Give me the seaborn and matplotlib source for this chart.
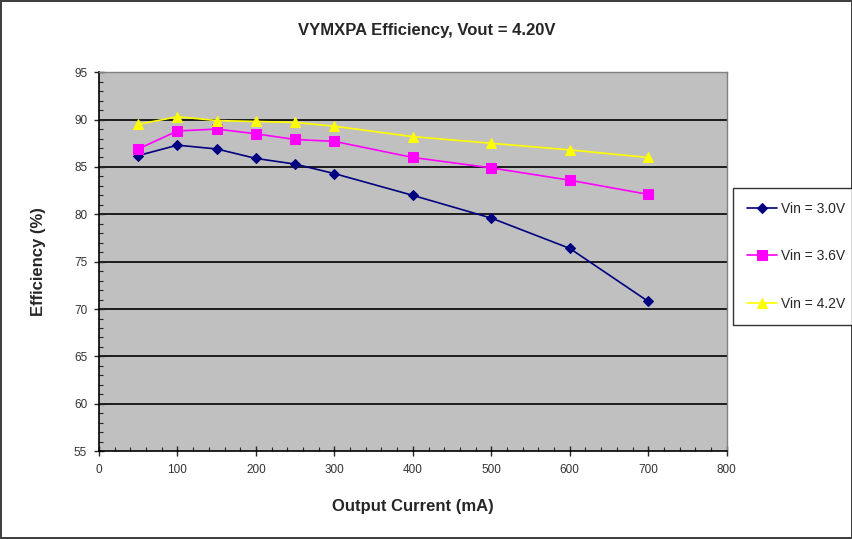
import numpy as np
import pandas as pd
import seaborn as sns
import matplotlib.pyplot as plt
from matplotlib.ticker import MultipleLocator

current = [50, 100, 150, 200, 250, 300, 400, 500, 600, 700]
vin_30 = [86.2, 87.3, 86.9, 85.9, 85.3, 84.3, 82.0, 79.6, 76.4, 70.8]
vin_36 = [86.9, 88.8, 89.0, 88.5, 87.9, 87.7, 86.0, 84.9, 83.6, 82.1]
vin_42 = [89.5, 90.3, 89.9, 89.8, 89.7, 89.3, 88.2, 87.5, 86.8, 86.0]
series = ["Vin = 3.0V", "Vin = 3.6V", "Vin = 4.2V"]

sns.set_theme(style="white")
plt.rcParams['font.family'] = ['Liberation Sans', 'DejaVu Sans']

df = pd.DataFrame({
    "current": current * 3,
    "eff": vin_30 + vin_36 + vin_42,
    "vin": [s for s in series for _ in current],
})

colors = {"Vin = 3.0V": "#000080", "Vin = 3.6V": "#FF00FF", "Vin = 4.2V": "#FFFF00"}
markers = {"Vin = 3.0V": "D", "Vin = 3.6V": "s", "Vin = 4.2V": "^"}
msize = {"Vin = 3.0V": 5.5, "Vin = 3.6V": 7, "Vin = 4.2V": 7}

fig = plt.figure(figsize=(8.53, 5.39), dpi=100)
fig.patch.set_edgecolor("#404040")
fig.patch.set_linewidth(1.5)
ax = fig.add_axes([0.116, 0.163, 0.736, 0.703])
ax.set_facecolor("#C0C0C0")

for s in series:
    sns.lineplot(data=df[df.vin == s], x="current", y="eff", ax=ax,
                 color=colors[s], marker=markers[s], markersize=msize[s],
                 markeredgecolor=colors[s], linewidth=1.2, label=s)

ax.set_xlim(0, 800)
ax.set_ylim(55, 95)
ax.xaxis.set_major_locator(MultipleLocator(100))
ax.xaxis.set_minor_locator(MultipleLocator(20))
ax.yaxis.set_major_locator(MultipleLocator(5))
ax.yaxis.set_minor_locator(MultipleLocator(1))
for y in range(60, 95, 5):
    ax.axhline(y, color="black", linewidth=1.2, zorder=0.5)
ax.tick_params(which="major", direction="inout", length=7, width=1,
               labelsize=8.5, labelcolor="#333333", bottom=True, left=True)
ax.tick_params(axis="x", which="major", pad=6)
ax.tick_params(axis="y", which="major", pad=5)
ax.tick_params(which="minor", direction="in", length=3, width=0.8,
               bottom=True, left=True)
for side in ["left", "bottom"]:
    ax.spines[side].set_color("black")
    ax.spines[side].set_linewidth(1.2)
for side in ["top", "right"]:
    ax.spines[side].set_color("#808080")
    ax.spines[side].set_linewidth(1)

ax.set_xlabel("Output Current (mA)", fontsize=12, fontweight="bold", labelpad=16)
ax.set_ylabel("Efficiency (%)", fontsize=12, fontweight="bold", labelpad=20)
fig.text(0.5, 0.935, "VYMXPA Efficiency, Vout = 4.20V", ha="center",
         fontsize=12, fontweight="bold")

ax.get_legend().remove()
handles, labels = ax.get_legend_handles_labels()
leg = fig.legend(handles, labels, loc="upper left", bbox_to_anchor=(0.859, 0.651),
                 frameon=True, fancybox=False, edgecolor="black", fontsize=10,
                 labelspacing=2.4, handlelength=2.2, handletextpad=0.3,
                 borderpad=1.0, borderaxespad=0)
leg.get_frame().set_linewidth(1)

fig.savefig("out.png", dpi=100, edgecolor=fig.get_edgecolor())
